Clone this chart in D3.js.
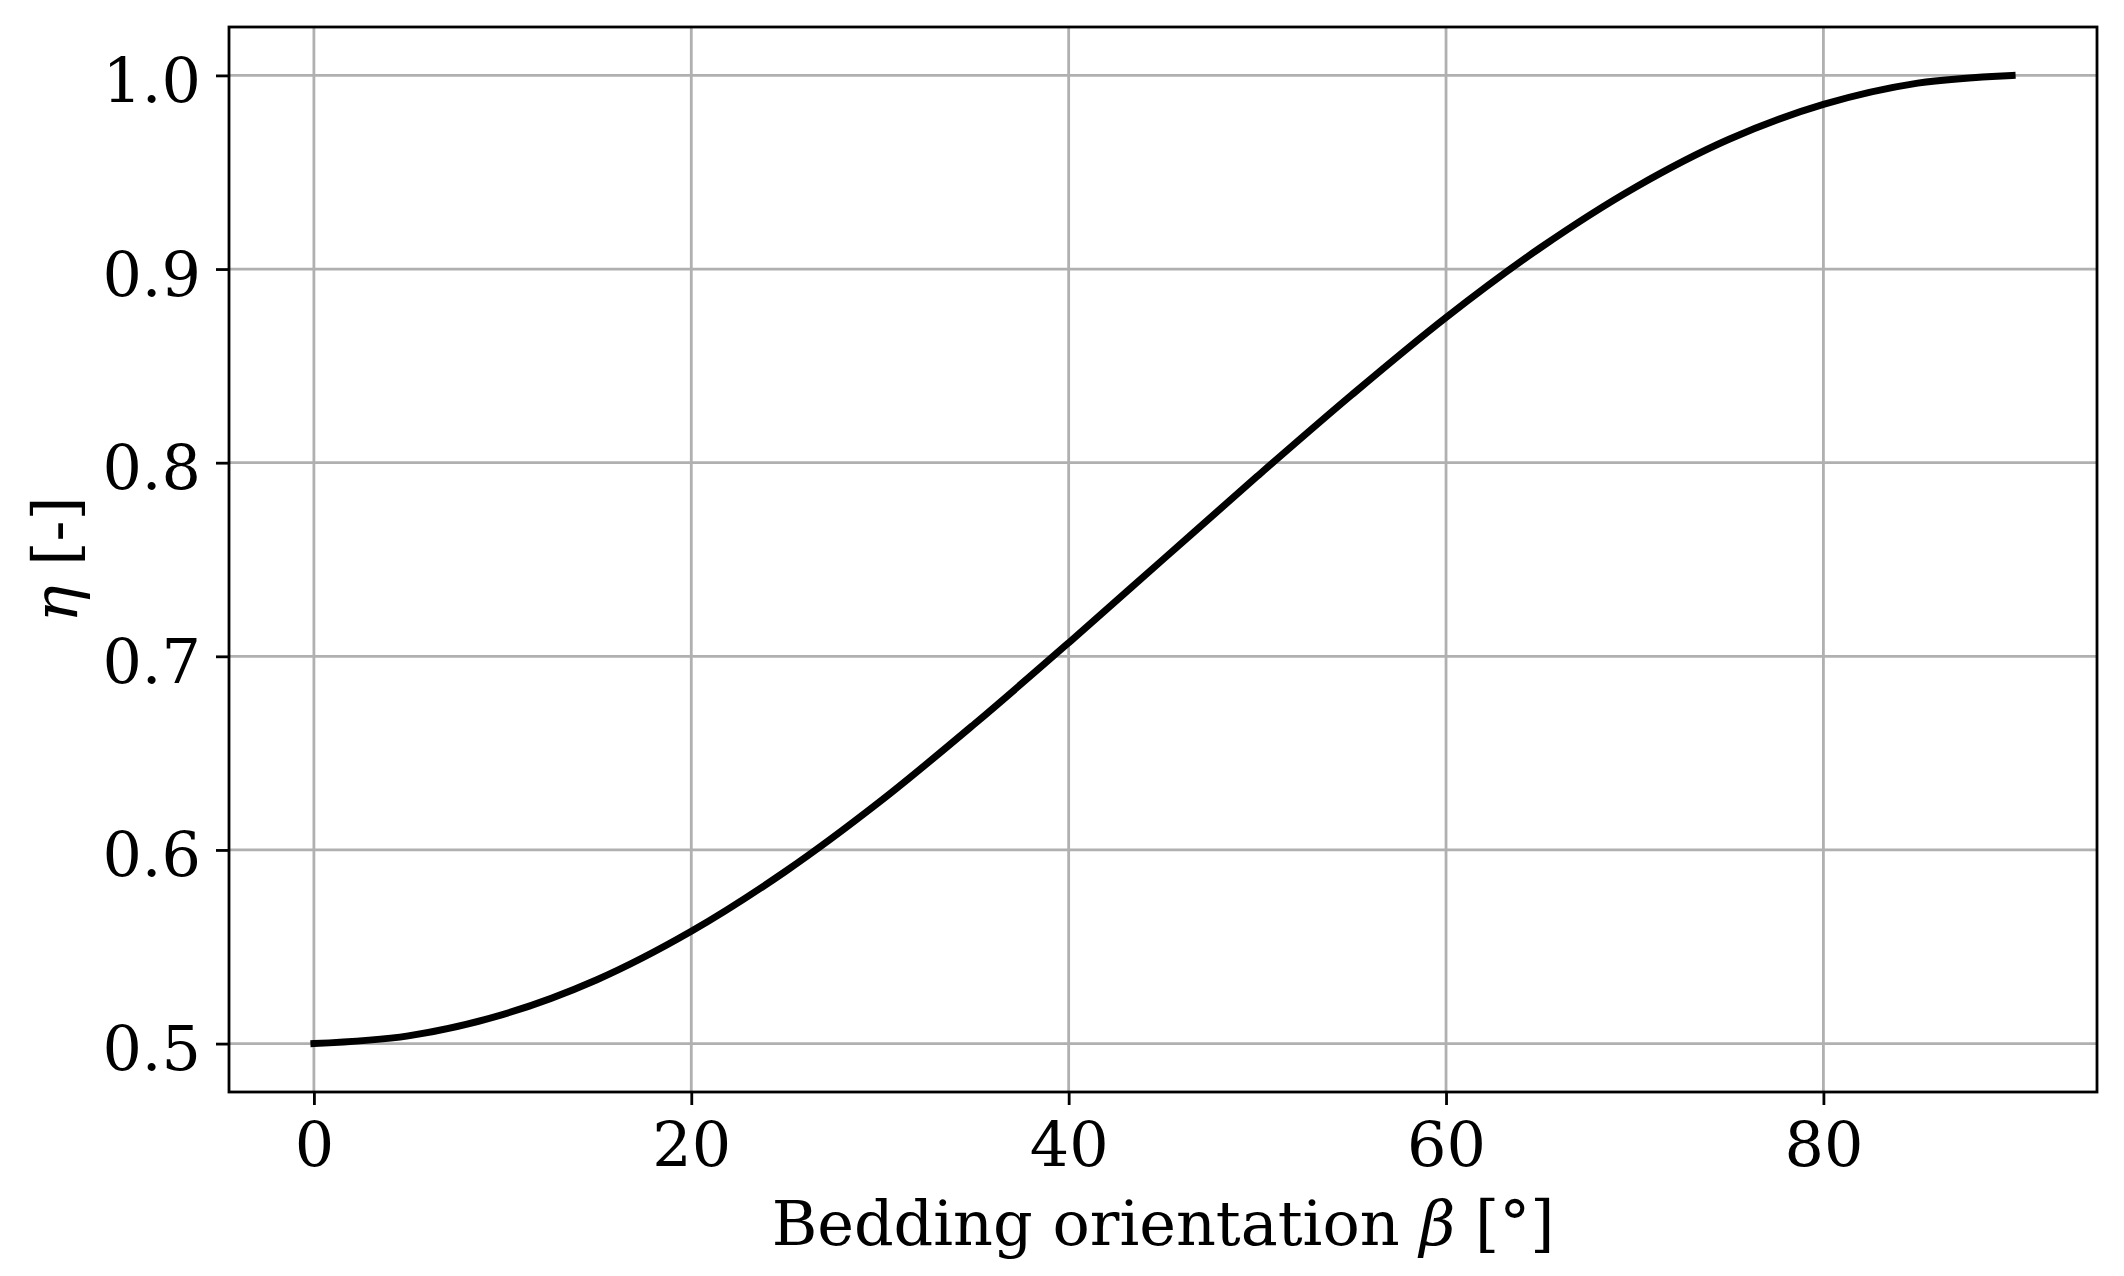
<!DOCTYPE html>
<html>
<head>
<meta charset="utf-8">
<script src="https://cdn.jsdelivr.net/npm/d3@7"></script>
<style>
html,body{margin:0;padding:0;background:#fff;}
svg{display:block;}
text{font-family:"DejaVu Serif",serif;fill:#000;}
</style>
</head>
<body>
<svg id="chart" width="2124" height="1276"></svg>
<script>
// Data
const betaDeg = [0,5,10,15,20,25,30,35,40,45,50,55,60,65,70,75,80,85,90];
const etaVals = [0.500,0.504,0.515,0.533,0.558,0.589,0.625,0.665,0.707,0.750,0.793,0.835,0.875,0.911,0.942,0.967,0.985,0.996,1.000];
const xTicks = [0,20,40,60,80];
const yTicks = [0.5,0.6,0.7,0.8,0.9,1.0];
const xLabelMain = "Bedding orientation ";
const xLabelSym = "β";
const xLabelUnit = " [°]";
const yLabelSym = "η";
const yLabelUnit = " [-]";

const svg = d3.select("#chart");
const L = 229, R = 2097, T = 27, B = 1092;
const fs = 62;

const x = d3.scaleLinear().domain([-4.5, 94.5]).range([L, R]);
const y = d3.scaleLinear().domain([0.475, 1.025]).range([B, T]);

// grid
const grid = svg.append("g");
grid.selectAll("line.gx").data(xTicks).enter().append("line")
  .attr("x1", d => x(d)).attr("x2", d => x(d)).attr("y1", T).attr("y2", B)
  .attr("stroke", "#b0b0b0").attr("stroke-width", 2.8);
grid.selectAll("line.gy").data(yTicks).enter().append("line")
  .attr("x1", L).attr("x2", R).attr("y1", d => y(d)).attr("y2", d => y(d))
  .attr("stroke", "#b0b0b0").attr("stroke-width", 2.8);

// curve
const data = betaDeg.map((b, i) => ({b, e: etaVals[i]}));
svg.append("path").datum(data)
  .attr("fill", "none").attr("stroke", "#000").attr("stroke-width", 7)
  .attr("stroke-linecap", "square").attr("stroke-linejoin", "round")
  .attr("d", d3.line().x(d => x(d.b)).y(d => y(d.e)).curve(d3.curveCatmullRom.alpha(0.5)));

// axes
const xAxis = d3.axisBottom(x).tickValues(xTicks).tickSize(13).tickPadding(16).tickFormat(d3.format("d"));
const yAxis = d3.axisLeft(y).tickValues(yTicks).tickSize(13).tickPadding(16).tickFormat(d3.format(".1f"));

const gx = svg.append("g").attr("transform", `translate(0,${B})`).call(xAxis);
const gy = svg.append("g").attr("transform", `translate(${L},0)`).call(yAxis);
[gx, gy].forEach(g => {
  g.select(".domain").remove();
  g.selectAll(".tick line").attr("stroke", "#000").attr("stroke-width", 2.8);
  g.selectAll(".tick text").attr("font-family", "DejaVu Serif").attr("font-size", fs).attr("fill", "#000");
});
gx.selectAll(".tick text").attr("dy", null).attr("y", 74);
gy.selectAll(".tick text").attr("dy", null).attr("y", 26).attr("x", -28);

// frame
svg.append("rect").attr("x", L).attr("y", T).attr("width", R - L).attr("height", B - T)
  .attr("fill", "none").attr("stroke", "#000").attr("stroke-width", 2.8);

// x label
const xl = svg.append("text").attr("x", (L + R) / 2).attr("y", 1245)
  .attr("text-anchor", "middle").attr("font-size", fs);
xl.append("tspan").text(xLabelMain);
xl.append("tspan").attr("font-style", "italic").text(xLabelSym);
xl.append("tspan").text(xLabelUnit);

// y label
const yl = svg.append("text").attr("transform", `translate(77,${(T + B) / 2}) rotate(-90)`)
  .attr("text-anchor", "middle").attr("font-size", fs);
yl.append("tspan").attr("font-style", "italic").text(yLabelSym);
yl.append("tspan").text(yLabelUnit);
</script>
</body>
</html>
